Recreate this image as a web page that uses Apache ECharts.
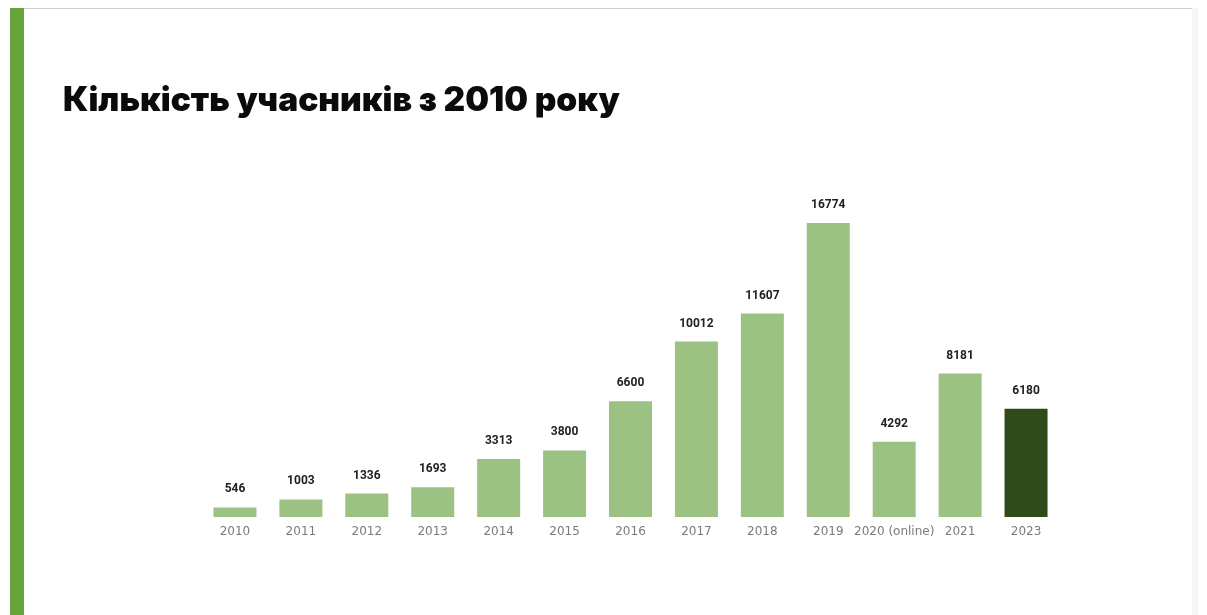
<!DOCTYPE html>
<html><head><meta charset="utf-8">
<script src="https://cdn.jsdelivr.net/npm/echarts@6/dist/echarts.min.js"></script>
<style>html,body{margin:0;padding:0;background:#fff}#c{width:1207px;height:615px}</style>
</head><body><div id="c"></div>
<script>
const title = "Кількість учасників з 2010 року";
const categories = ["2010","2011","2012","2013","2014","2015","2016","2017","2018","2019","2020 (online)","2021","2023"];
const values = [546,1003,1336,1693,3313,3800,6600,10012,11607,16774,4292,8181,6180];
const highlightIndex = 12;
const lightGreen = "#9cc283";
const darkGreen = "#2f4a1b";

const chart = echarts.init(document.getElementById('c'));
chart.setOption({
  backgroundColor: '#ffffff',
  animation: false,
  title: {
    text: title, left: 58, top: 79,
    textStyle: {fontFamily: 'Inter', fontWeight: 900, fontSize: 33.5, color: '#0b0b0b'}
  },
  graphic: [
    {type: 'rect', shape: {x: 10, y: 8, width: 14, height: 607}, style: {fill: '#67a53a'}, silent: true},
    {type: 'rect', shape: {x: 24, y: 8, width: 1172, height: 1}, style: {fill: '#cfcfcf'}, silent: true},
    {type: 'rect', shape: {x: 1192, y: 8, width: 6, height: 607}, style: {fill: '#f6f6f6'}, silent: true}
  ],
  grid: {left: 202, right: 148, top: 201.5, bottom: 98, containLabel: false},
  xAxis: {
    type: 'category', data: categories,
    axisLine: {show: false}, axisTick: {show: false},
    axisLabel: {color: '#7a7a7a', fontSize: 12, fontFamily: 'DejaVu Sans', margin: 9, interval: 0}
  },
  yAxis: {type: 'value', min: 0, max: 18000, show: false, splitLine: {show: false}},
  series: [{
    type: 'bar', barWidth: 43,
    data: values.map((v, i) => ({value: v, itemStyle: {color: i === highlightIndex ? darkGreen : lightGreen}})),
    label: {show: true, position: 'top', distance: 12, color: '#222', fontSize: 12, fontWeight: 'bold', fontFamily: 'Roboto'}
  }]
});
</script></body></html>
